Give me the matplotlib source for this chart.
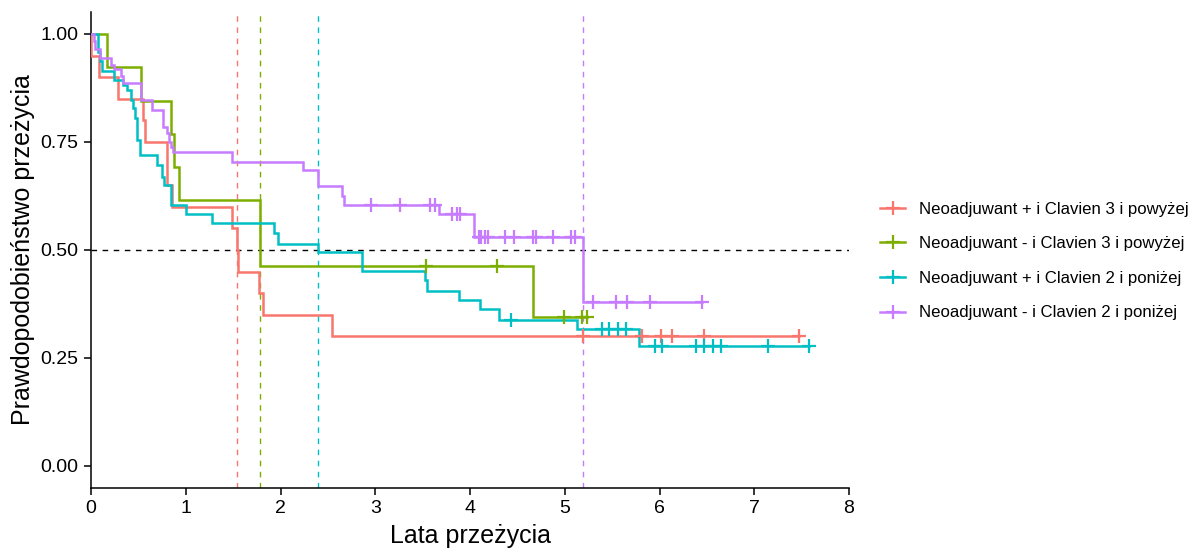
import matplotlib
matplotlib.use("Agg")
import matplotlib.pyplot as plt
from matplotlib.lines import Line2D
import numpy as np

plt.rcParams['font.family'] = ['Liberation Sans', 'DejaVu Sans']

labels = ["Neoadjuwant + i Clavien 3 i powyżej",
          "Neoadjuwant - i Clavien 3 i powyżej",
          "Neoadjuwant + i Clavien 2 i poniżej",
          "Neoadjuwant - i Clavien 2 i poniżej"]
colors = ["#F8766D", "#7CAE00", "#00BFC4", "#C77CFF"]

# step times (years) and survival after each step
red_t = [0.0, 0.085, 0.29, 0.55, 0.57, 0.80, 0.80, 0.85, 1.485, 1.54, 1.555, 1.77, 1.82, 2.54]
red_s = [0.95, 0.90, 0.85, 0.80, 0.75, 0.70, 0.65, 0.60, 0.55, 0.50, 0.45, 0.40, 0.35, 0.30]
red_cens = [5.19, 5.82, 6.02, 6.13, 6.47, 7.47]

green_t = [0.17, 0.525, 0.845, 0.876, 0.93, 1.785, 4.66]
green_s = [0.923, 0.846, 0.769, 0.692, 0.615, 0.462, 0.346]
green_cens = [3.535, 4.28, 4.99, 5.18, 5.24]

cyan_t = [0.074, 0.10, 0.12, 0.243, 0.34, 0.383, 0.42, 0.443, 0.464, 0.49, 0.517,
          0.70, 0.746, 0.774, 0.84, 1.0, 1.273, 1.935, 1.97, 2.40, 2.857, 3.525,
          3.55, 3.887, 4.105, 4.31, 5.125, 5.787]
cyan_s = [0.958, 0.937, 0.914, 0.894, 0.882, 0.87, 0.848, 0.829, 0.805, 0.755, 0.72,
          0.697, 0.67, 0.65, 0.604, 0.583, 0.562, 0.539, 0.515, 0.495, 0.451, 0.43,
          0.406, 0.384, 0.363, 0.338, 0.316, 0.277]
cyan_cens = [4.43, 5.39, 5.47, 5.56, 5.65, 5.95, 6.03, 6.39, 6.47, 6.56, 6.65, 7.14, 7.58]

purple_t = [0.03, 0.046, 0.09, 0.215, 0.243, 0.32, 0.34, 0.525, 0.64, 0.763, 0.80,
            0.826, 0.84, 0.87, 1.485, 2.24, 2.40, 2.645, 2.67, 3.675, 4.04, 5.196]
purple_s = [0.983, 0.966, 0.944, 0.929, 0.92, 0.902, 0.887, 0.848, 0.824, 0.785, 0.77,
            0.75, 0.738, 0.726, 0.704, 0.685, 0.647, 0.624, 0.604, 0.583, 0.531, 0.38]
purple_cens = [2.955, 3.26, 3.58, 3.63, 3.81, 3.86, 3.895, 4.09, 4.12, 4.16, 4.19,
               4.37, 4.46, 4.67, 4.70, 4.88, 5.07, 5.11, 5.30, 5.54, 5.66, 5.90, 6.445]

series = [(red_t, red_s, red_cens), (green_t, green_s, green_cens),
          (cyan_t, cyan_s, cyan_cens), (purple_t, purple_s, purple_cens)]

fig = plt.figure(figsize=(12.03, 5.51), dpi=100)
ax = fig.add_axes([91/1203, 1 - 487.6/551, (849-91)/1203, (487.6-12.4)/551])

lw = 1.8
ms = 9.5
for (t, s, c), col in zip(series, colors):
    t = np.asarray(t, float); s = np.asarray(s, float); c = np.asarray(c, float)
    end = max(t.max(), c.max() if len(c) else 0)
    xs = np.concatenate([[0.0], t, [end]])
    ys = np.concatenate([[1.0], s, [s[-1]]])
    ax.step(xs, ys, where='post', color=col, lw=lw, zorder=3, solid_joinstyle='miter')
    # censor marks at survival level
    idx = np.searchsorted(t, c, side='right') - 1
    cy = np.where(idx >= 0, s[np.clip(idx, 0, None)], 1.0)
    ax.plot(c, cy, ls='none', marker='+', ms=ms, mew=1.6, color=col, zorder=4)
    # median line
    med = t[np.argmax(s <= 0.5)]
    ax.axvline(med, color=col, lw=1.0, dashes=(4, 4), zorder=2)

ax.axhline(0.5, color='black', lw=1.0, dashes=(4, 4), zorder=2)

ax.set_xlim(0, 8)
ax.set_ylim(-0.05, 1.05)
ax.set_xticks(range(0, 9))
ax.set_yticks([0, 0.25, 0.5, 0.75, 1.0])
ax.set_yticklabels(["0.00", "0.25", "0.50", "0.75", "1.00"])
for sp in ['top', 'right']:
    ax.spines[sp].set_visible(False)
for sp in ['left', 'bottom']:
    ax.spines[sp].set_linewidth(1.1)
    ax.spines[sp].set_color('black')
ax.spines['bottom'].set_bounds(0, 8)
ax.tick_params(axis='both', direction='out', length=5, width=1.1, colors='black',
               labelsize=14, pad=4)
ax.set_xlabel("Lata przeżycia", fontsize=18, labelpad=5)
ax.set_ylabel("Prawdopodobieństwo przeżycia", fontsize=18, labelpad=4)

handles = [Line2D([0], [0], color=c, lw=lw, marker='+', ms=ms, mew=1.6) for c in colors]
fig.legend(handles, labels, loc='center left', bbox_to_anchor=(880/1203, 1 - 261/551),
           frameon=False, fontsize=12.1, handlelength=1.5, handletextpad=0.8,
           labelspacing=1.17, borderpad=0, borderaxespad=0)

fig.savefig("out.png", dpi=100)
